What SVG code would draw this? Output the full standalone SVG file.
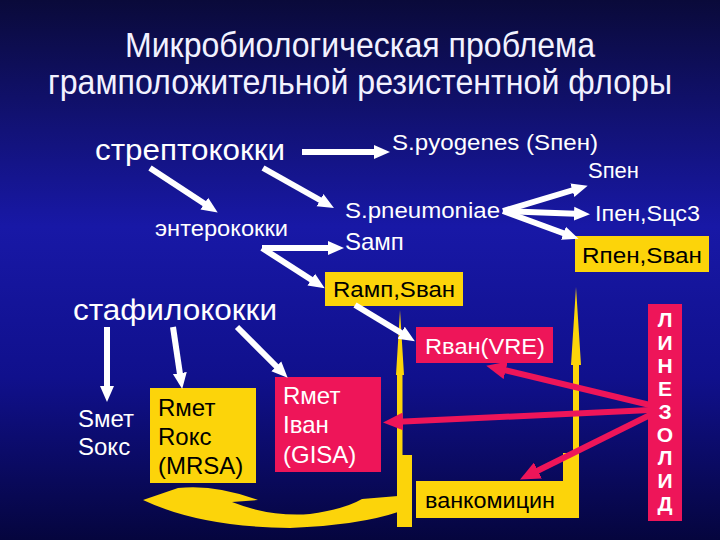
<svg xmlns="http://www.w3.org/2000/svg" width="720" height="540" viewBox="0 0 720 540">
<defs>
<linearGradient id="bg" x1="0" y1="0" x2="0" y2="1">
<stop offset="0" stop-color="#0a0a3a"/>
<stop offset="0.42" stop-color="#1818a6"/>
<stop offset="0.7" stop-color="#10108c"/>
<stop offset="1" stop-color="#05053e"/>
</linearGradient>
<marker id="wa" viewBox="0 0 16 16" markerWidth="16" markerHeight="16" refX="8" refY="8" orient="auto" markerUnits="userSpaceOnUse">
<path d="M0,1 L16,8 L0,15 Z" fill="#ffffff"/>
</marker>
<marker id="pa" viewBox="0 0 20 18" markerWidth="20" markerHeight="18" refX="10" refY="9" orient="auto" markerUnits="userSpaceOnUse">
<path d="M0,0 L20,9 L0,18 Z" fill="#ee1559"/>
</marker>
<style>
text{font-family:"Liberation Sans",Arial,sans-serif;}
.t{fill:#ffffff;font-size:22px;}
.m{fill:#ffffff;font-size:24px;}
.big{fill:#ffffff;font-size:30px;}
.title{fill:#f2f2ff;font-size:35px;}
.dk{fill:#000000;font-size:22px;}
.dm{fill:#000000;font-size:24px;}
.yb{fill:#fcd40a;}
.pb{fill:#ee1559;}
.w{stroke:#ffffff;stroke-width:6;fill:none;marker-end:url(#wa);}
.p{stroke:#ee1559;stroke-width:6;fill:none;marker-end:url(#pa);}
.y{fill:#fcd40a;}
.lz{fill:#ffffff;font-size:21px;font-weight:bold;text-anchor:middle;}
</style>
</defs>
<rect x="0" y="0" width="720" height="540" fill="url(#bg)"/>

<g id="title">
<text class="title" x="125" y="57" textLength="470" lengthAdjust="spacingAndGlyphs">Микробиологическая проблема</text>
<text class="title" x="48" y="94" textLength="624" lengthAdjust="spacingAndGlyphs">грамположительной резистентной флоры</text>
</g>

<g id="yellow-arrows">
<path class="y" d="M400,310 L404,375 L402.5,375 L402.5,455 L412,455 L412,527 L397,527 L397,375 L396,375 Z"/>
<path class="y" d="M576,287 L581,365 L579,365 L579,518 L563,518 L563,453 L573,453 L573,365 L571,365 Z"/>
<path class="y" d="M143,500 L178,488 Q215,484 258,500 L232,502 Q270,517 310,514 Q345,509 362,499 L398,496 L398,512 Q360,525 290,528 Q200,527 143,500 Z"/>
</g>

<g id="streptococci"><text class="big" x="95" y="160" textLength="190" lengthAdjust="spacingAndGlyphs">стрептококки</text></g>
<g id="pyogenes"><text class="t" x="392" y="150" textLength="206" lengthAdjust="spacingAndGlyphs">S.pyogenes (Sпен)</text></g>
<g id="spen"><text class="t" x="588" y="178">Sпен</text></g>
<g id="enterococci"><text class="t" x="155" y="236" textLength="133" lengthAdjust="spacingAndGlyphs">энтерококки</text></g>
<g id="pneumoniae"><text class="t" x="345" y="218" textLength="155" lengthAdjust="spacingAndGlyphs">S.pneumoniae</text></g>
<g id="samp"><text class="m" x="345" y="250">Sамп</text></g>
<g id="ipen"><text class="t" x="595" y="221" textLength="105" lengthAdjust="spacingAndGlyphs">Iпен,Sцс3</text></g>
<g id="rpen"><rect class="yb" x="575" y="236" width="134" height="36"/><text class="dk" x="582" y="263" textLength="120" lengthAdjust="spacingAndGlyphs">Rпен,Sван</text></g>
<g id="ramp"><rect class="yb" x="325" y="272" width="138" height="34"/><text class="dk" x="333" y="297" textLength="122" lengthAdjust="spacingAndGlyphs">Rамп,Sван</text></g>
<g id="vre"><rect class="pb" x="416" y="327" width="137" height="36"/><text class="t" x="425" y="354" textLength="120" lengthAdjust="spacingAndGlyphs">Rван(VRE)</text></g>
<g id="staphylococci"><text class="big" x="73" y="320" textLength="204" lengthAdjust="spacingAndGlyphs">стафилококки</text></g>
<g id="smet"><text class="m" x="78" y="427">Sмет</text><text class="m" x="78" y="455">Sокс</text></g>
<g id="mrsa"><rect class="yb" x="150" y="388" width="106" height="95"/>
<text class="dm" x="158" y="416">Rмет</text><text class="dm" x="158" y="445">Rокс</text><text class="dm" x="158" y="474">(MRSA)</text></g>
<g id="gisa"><rect class="pb" x="275" y="377" width="106" height="95"/>
<text class="m" x="283" y="404">Rмет</text><text class="m" x="283" y="433">Iван</text><text class="m" x="283" y="463">(GISA)</text></g>
<g id="vancomycin"><rect class="yb" x="416" y="481" width="147" height="37"/><text class="dk" x="425" y="508" textLength="130" lengthAdjust="spacingAndGlyphs">ванкомицин</text></g>

<g id="connectors">
<line class="w" x1="302" y1="152" x2="382" y2="152"/>
<line class="w" x1="150" y1="168" x2="211" y2="208"/>
<line class="w" x1="263" y1="168" x2="327" y2="204"/>
<line class="w" x1="262" y1="248" x2="336" y2="248"/>
<line class="w" x1="262" y1="248" x2="318" y2="284"/>
<line class="w" x1="355" y1="305" x2="408" y2="337"/>
<line class="w" x1="503" y1="211" x2="580" y2="188"/>
<line class="w" x1="503" y1="211" x2="582" y2="214"/>
<line class="w" x1="503" y1="211" x2="571" y2="236"/>
<line class="w" x1="107" y1="327" x2="107" y2="394"/>
<line class="w" x1="173" y1="327" x2="181" y2="381"/>
<line class="w" x1="237" y1="327" x2="282" y2="372"/>
<line class="p" x1="650" y1="405" x2="496" y2="368"/>
<line class="p" x1="650" y1="410" x2="393" y2="422"/>
<line class="p" x1="650" y1="415" x2="529" y2="475"/>
</g>

<g id="linezolid"><rect class="pb" x="648" y="304" width="34" height="217"/>
<text class="lz" x="665" y="327">Л</text><text class="lz" x="665" y="350">И</text><text class="lz" x="665" y="373">Н</text><text class="lz" x="665" y="396">Е</text><text class="lz" x="665" y="419">З</text><text class="lz" x="665" y="442">О</text><text class="lz" x="665" y="465">Л</text><text class="lz" x="665" y="488">И</text><text class="lz" x="665" y="511">Д</text></g>
</svg>
